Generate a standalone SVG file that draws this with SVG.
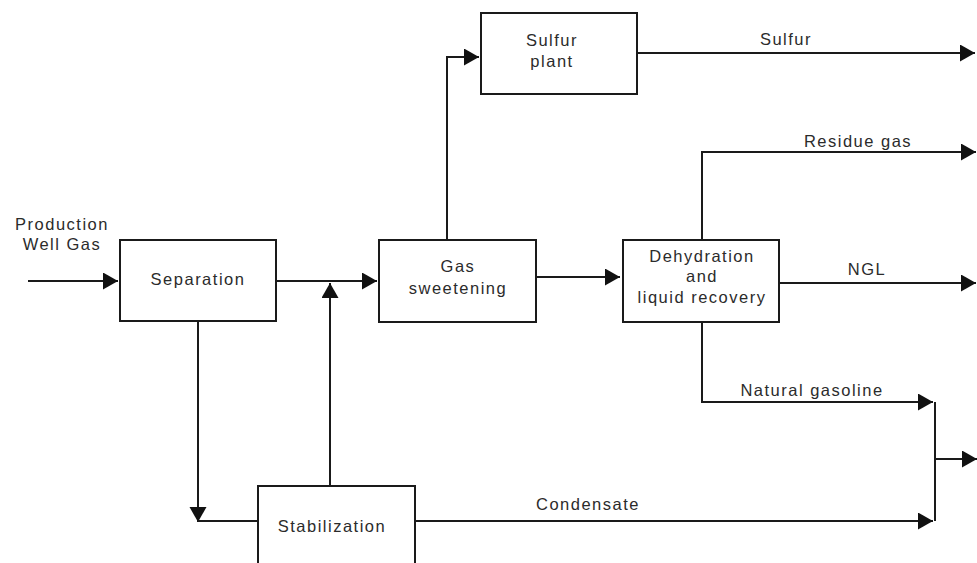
<svg xmlns="http://www.w3.org/2000/svg" width="977" height="563" viewBox="0 0 977 563">
<style>
.box{fill:#fff;stroke:#1a1a1a;stroke-width:2}
.ln{fill:none;stroke:#1a1a1a;stroke-width:2}
text{font-family:"Liberation Sans",Arial,sans-serif;font-size:16.5px;fill:#2b2b2b;letter-spacing:1.5px}
.c{text-anchor:middle}
</style>
<defs>
<marker id="ah" markerUnits="userSpaceOnUse" markerWidth="16" markerHeight="18" refX="15" refY="8.5" orient="auto">
<path d="M0,0 L15,8.5 L0,17 Z" fill="#111"/>
</marker>
</defs>
<rect width="977" height="563" fill="#fff"/>
<g id="connectors">
<path class="ln" d="M28,281 H118" marker-end="url(#ah)"/>
<path class="ln" d="M276,281 H377" marker-end="url(#ah)"/>
<path class="ln" d="M330,486 V283" marker-end="url(#ah)"/>
<path class="ln" d="M447,240 V57 H479" marker-end="url(#ah)"/>
<path class="ln" d="M637,53 H975" marker-end="url(#ah)"/>
<path class="ln" d="M536,277 H620" marker-end="url(#ah)"/>
<path class="ln" d="M702,240 V152 H976" marker-end="url(#ah)"/>
<path class="ln" d="M779,283 H976" marker-end="url(#ah)"/>
<path class="ln" d="M702,322 V402 H933" marker-end="url(#ah)"/>
<path class="ln" d="M198,321 V522" marker-end="url(#ah)"/>
<path class="ln" d="M198,521 H258"/>
<path class="ln" d="M415,521 H933" marker-end="url(#ah)"/>
<path class="ln" d="M935,402 V521"/>
<path class="ln" d="M935,459 H977" marker-end="url(#ah)"/>
<text class="c" x="786" y="45">Sulfur</text>
<text class="c" x="858" y="147">Residue gas</text>
<text class="c" x="867" y="275">NGL</text>
<text class="c" x="812" y="396">Natural gasoline</text>
<text class="c" x="588" y="510">Condensate</text>
</g>
<g id="input">
<text class="c" x="62" y="230">Production</text>
<text class="c" x="62" y="250">Well Gas</text>
</g>
<g id="separation">
<rect class="box" x="120" y="240" width="156" height="81"/>
<text class="c" x="198" y="285">Separation</text>
</g>
<g id="gas-sweetening">
<rect class="box" x="379" y="240" width="157" height="82"/>
<text class="c" x="458" y="272">Gas</text>
<text class="c" x="458" y="294">sweetening</text>
</g>
<g id="sulfur-plant">
<rect class="box" x="481" y="13" width="156" height="81"/>
<text class="c" x="552" y="46">Sulfur</text>
<text class="c" x="552" y="67">plant</text>
</g>
<g id="dehydration">
<rect class="box" x="623" y="240" width="156" height="82"/>
<text class="c" x="702" y="262">Dehydration</text>
<text class="c" x="702" y="282">and</text>
<text class="c" x="702" y="303">liquid recovery</text>
</g>
<g id="stabilization">
<rect class="box" x="258" y="486" width="157" height="90"/>
<text class="c" x="332" y="532">Stabilization</text>
</g>
</svg>
